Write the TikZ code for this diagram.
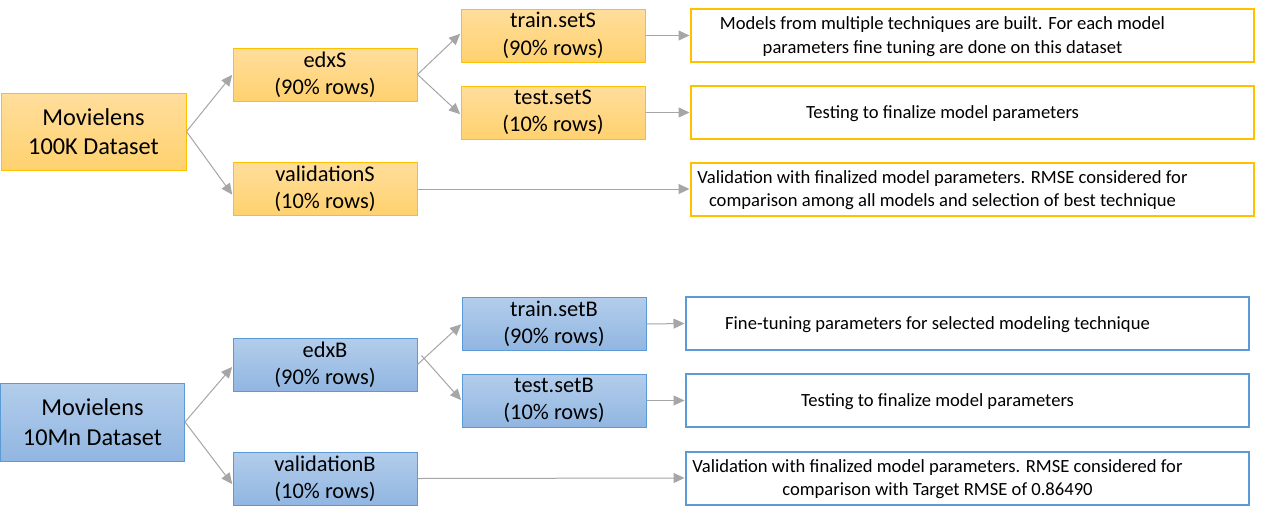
\documentclass[tikz,border=0pt]{standalone}
\usepackage{fontspec}
\setmainfont{Carlito}
\usetikzlibrary{arrows.meta}
\definecolor{obord}{HTML}{FFC000}
\definecolor{otop}{HTML}{FFDD9C}
\definecolor{obot}{HTML}{FFD26F}
\definecolor{bbord}{HTML}{5B9BD5}
\definecolor{btop}{HTML}{B3CDEB}
\definecolor{bbot}{HTML}{91B6E1}
\definecolor{arr}{HTML}{A6A6A6}
\tikzset{
  base/.style={rectangle, align=center, inner sep=0pt, text=black},
  bigO/.style={base, draw=obord, line width=1pt, top color=otop, bottom color=obot, minimum width=185pt, minimum height=77pt, font=\fontsize{24.3}{29.5}\selectfont},
  midO/.style={base, draw=obord, line width=1pt, top color=otop, bottom color=obot, minimum width=184pt, minimum height=53pt, font=\fontsize{22.4}{27.4}\selectfont},
  txtO/.style={base, draw=obord, line width=2pt, fill=white, minimum width=563pt, minimum height=53pt},
  bigB/.style={base, draw=bbord, line width=1pt, top color=btop, bottom color=bbot, minimum width=184pt, minimum height=78pt, font=\fontsize{24.3}{29.5}\selectfont},
  midB/.style={base, draw=bbord, line width=1pt, top color=btop, bottom color=bbot, minimum width=184pt, minimum height=53pt, font=\fontsize{22.4}{27.4}\selectfont},
  txtB/.style={base, draw=bbord, line width=2pt, fill=white, minimum width=563pt, minimum height=53pt},
  inner/.style={align=center, inner sep=0pt, xshift=-30pt, yshift=-1pt, font=\fontsize{18.6}{23.5}\selectfont},
  conn/.style={draw=arr, line width=1pt, -{Triangle[length=11pt,width=10pt]}, shorten >=0.5pt}
}
\begin{document}
\begin{tikzpicture}[x=1pt,y=-1pt]
\useasboundingbox[fill=white] (0,0) rectangle (1266,520);
% top group
\node[bigO] (m100) at (93.5,131.5) {Movielens\\100K Dataset};
\node[midO] (edxS) at (325,74.5) {edxS\\(90\% rows)};
\node[midO] (valS) at (325,189) {validationS\\(10\% rows)};
\node[midO] (trainS) at (553,35.5) {train.setS\\(90\% rows)};
\node[midO] (testS) at (553,112.5) {test.setS\\(10\% rows)};
\node[txtO, label={[inner]center:Models from multiple techniques are built. For each model\\parameters fine tuning are done on this dataset}] (r1) at (972.5,35.5) {};
\node[txtO, label={[inner]center:Testing to finalize model parameters}] (r2) at (972.5,112.5) {};
\node[txtO, label={[inner]center:Validation with finalized model parameters. RMSE considered for\\comparison among all models and selection of best technique}] (r3) at (972.5,189) {};
% bottom group
\node[bigB] (m10) at (92.5,422) {Movielens\\10Mn Dataset};
\node[midB] (edxB) at (325,364.5) {edxB\\(90\% rows)};
\node[midB] (valB) at (325,478.5) {validationB\\(10\% rows)};
\node[midB] (trainB) at (554,324) {train.setB\\(90\% rows)};
\node[midB] (testB) at (554,400.5) {test.setB\\(10\% rows)};
\node[txtB, label={[inner]center:Fine-tuning parameters for selected modeling technique}] (rb1) at (967.5,323.5) {};
\node[txtB, label={[inner]center:Testing to finalize model parameters}] (rb2) at (967.5,400.5) {};
\node[txtB, label={[inner]center:Validation with finalized model parameters. RMSE considered for\\comparison with Target RMSE of 0.86490}] (rb3) at (967.5,478) {};
% connectors
\draw[conn] (m100.east) -- (edxS.west);
\draw[conn] (m100.east) -- ([yshift=-6pt]valS.west);
\draw[conn] (edxS.east) -- ([yshift=2pt]trainS.west);
\draw[conn] (edxS.east) -- ([yshift=-2pt]testS.west);
\draw[conn] (trainS.east) -- (r1.west);
\draw[conn] (testS.east) -- (r2.west);
\draw[conn] (valS.east) -- (r3.west);
\draw[conn] (m10.east) -- ([yshift=-2pt]edxB.west);
\draw[conn] (m10.east) -- ([yshift=-6pt]valB.west);
\draw[conn] (edxB.east) -- (trainB.west);
\draw[conn] ([xshift=4pt,yshift=9pt]edxB.east) -- (testB.west);
\draw[conn] (trainB.east) -- (rb1.west);
\draw[conn] (testB.east) -- (rb2.west);
\draw[conn] (valB.east) -- (rb3.west);
\end{tikzpicture}
\end{document}
